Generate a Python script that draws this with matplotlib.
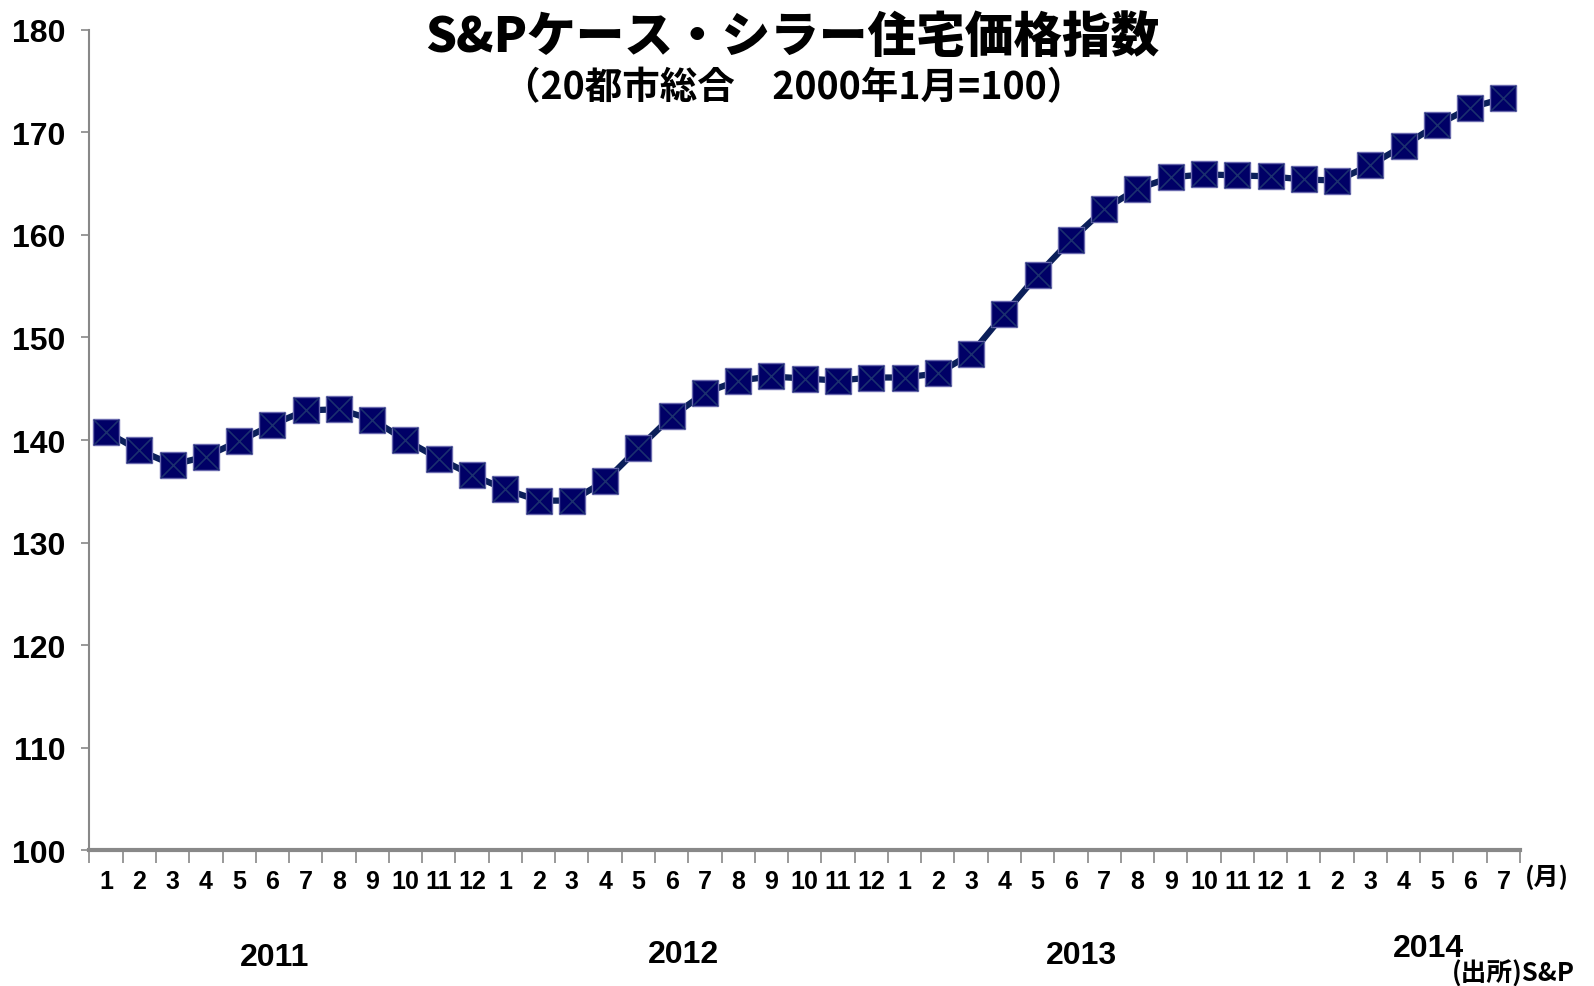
import numpy as np
import matplotlib
matplotlib.use('Agg')
import matplotlib.pyplot as plt
from matplotlib.ticker import FixedLocator, MultipleLocator

plt.rcParams['font.family'] = ['Liberation Sans', 'Noto Sans CJK JP', 'DejaVu Sans']

# S&P Case-Shiller 20-city composite, Jan 2011 - Jul 2014
months = [1, 2, 3, 4, 5, 6, 7, 8, 9, 10, 11, 12] * 3 + [1, 2, 3, 4, 5, 6, 7]
years = ['2011', '2012', '2013', '2014']
index_values = [
    140.8, 139.0, 137.6, 138.4, 139.9, 141.5, 142.9, 143.0, 142.0, 140.0, 138.2, 136.6,
    135.2, 134.1, 134.1, 136.0, 139.2, 142.3, 144.6, 145.8, 146.2, 146.0, 145.8, 146.1,
    146.1, 146.5, 148.4, 152.3, 156.1, 159.5, 162.5, 164.5, 165.6, 165.9, 165.8, 165.7,
    165.4, 165.3, 166.8, 168.7, 170.7, 172.4, 173.3,
]
# where the year captions sit (month index) and their height below the axis
year_label_x = [5.07, 17.35, 29.32, 39.74]
year_label_y = [-0.130, -0.126, -0.127, -0.119]

fig = plt.figure(figsize=(15.94, 9.87), dpi=100)
ax = fig.add_axes([0.0561, 0.1373, 0.8975, 0.8316])

x = np.arange(len(index_values))
ax.plot(x, index_values, color='#0B1F5A', lw=4.5, zorder=2)
ax.plot(x, index_values, ls='none', marker='s', ms=19, mfc='#000066',
        mec='#6A6AAE', mew=1, zorder=3)
ax.plot(x, index_values, ls='none', marker='x', ms=18, mec='#1B2F6E',
        mew=1.2, zorder=4)

ax.set_xlim(-0.5, len(index_values) - 0.5)
ax.set_ylim(100, 180)

ax.yaxis.set_major_locator(MultipleLocator(10))
ax.tick_params(axis='y', length=6, width=1.2, color='#888888', pad=11,
               labelsize=23)
for lbl in ax.get_yticklabels():
    lbl.set_fontweight('bold')

ax.set_xticks(x)
ax.set_xticklabels([str(m) for m in months], fontsize=18, fontweight='bold')
ax.xaxis.set_minor_locator(FixedLocator(np.arange(-0.5, len(index_values), 1.0)))
ax.tick_params(axis='x', which='major', length=0, pad=13)
ax.tick_params(axis='x', which='minor', length=9, width=1.2, color='#888888')

for side in ['top', 'right']:
    ax.spines[side].set_visible(False)
ax.spines['left'].set_color('#888888')
ax.spines['left'].set_linewidth(1.5)
ax.spines['bottom'].set_color('#888888')
ax.spines['bottom'].set_linewidth(3)

trans = ax.get_xaxis_transform()
for yr, xp, yp in zip(years, year_label_x, year_label_y):
    ax.text(xp, yp, yr, transform=trans, ha='center', va='center',
            fontsize=23, fontweight='bold')

fig.text(0.9705, 0.111, '(月)', ha='center', va='center', fontsize=18,
         fontweight='bold', family=['Noto Sans CJK JP'])
fig.text(0.988, 0.013, '(出所)S&P', ha='right', va='center', fontsize=18.5,
         fontweight='bold', family=['Noto Sans CJK JP'])

fig.text(0.497, 0.962, 'S&Pケース・シラー住宅価格指数', ha='center', va='center',
         fontsize=35, fontweight='heavy', family=['Noto Sans CJK JP'])
fig.text(0.498, 0.911, '（20都市総合　2000年1月=100）', ha='center', va='center',
         fontsize=27, fontweight='bold', family=['Noto Sans CJK JP'])

fig.savefig('out.png', dpi=100, facecolor='white')
